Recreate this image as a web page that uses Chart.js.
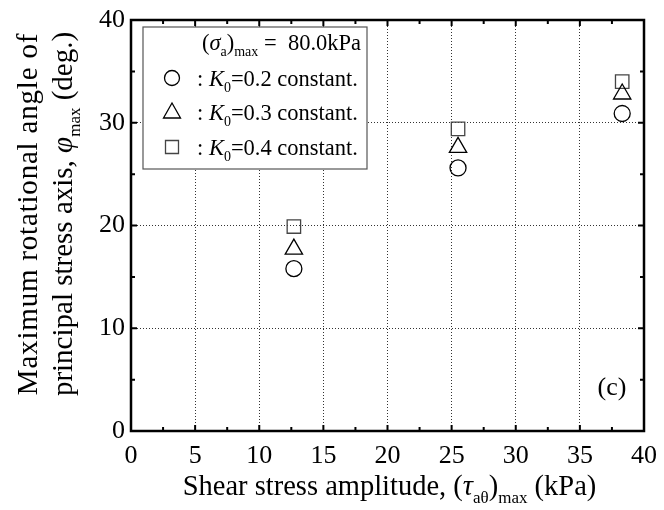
<!DOCTYPE html>
<html>
<head>
<meta charset="utf-8">
<script src="https://cdn.jsdelivr.net/npm/chart.js@4/dist/chart.umd.min.js"></script>
<style>
  html, body { margin: 0; padding: 0; background: #fff; }
  #wrap { width: 664px; height: 510px; position: relative; }
</style>
</head>
<body>
<div id="wrap"><canvas id="chart"></canvas></div>
<script>
// shear stress amplitude (kPa) and max rotational angle (deg.) for each K0
const shearAmp = [12.7, 25.5, 38.3];
const phiK02 = [15.8, 25.6, 30.9];
const phiK03 = [17.7, 27.6, 32.8];
const phiK04 = [19.9, 29.4, 34.0];
const xTicks = [0, 5, 10, 15, 20, 25, 30, 35, 40];
const yTicks = [0, 10, 20, 30, 40];
const xMinor = [2.5, 7.5, 12.5, 17.5, 22.5, 27.5, 32.5, 37.5];
const yMinor = [5, 15, 25, 35];

const SERIF = '"Liberation Serif", "Times New Roman", serif';

function pts(ys) {
    return shearAmp.map((x, i) => ({ x: x, y: ys[i] }));
}

// draws a row of text pieces (subscripts, italics) starting at x
function drawRich(ctx, x, y, parts, align) {
    let total = 0;
    for (const p of parts) {
        ctx.font = p.f;
        total += ctx.measureText(p.t).width;
    }
    let cx = align === 'right' ? x - total : align === 'center' ? x - total / 2 : x;
    ctx.textAlign = 'left';
    ctx.textBaseline = 'alphabetic';
    for (const p of parts) {
        ctx.font = p.f;
        ctx.fillText(p.t, cx, y + (p.dy || 0));
        cx += ctx.measureText(p.t).width;
    }
}

function marker(ctx, style, x, y) {
    ctx.save();
    ctx.lineWidth = 1.3;
    ctx.strokeStyle = style === 'rect' ? '#444' : '#000';
    ctx.beginPath();
    if (style === 'circle') {
        ctx.arc(x, y, 7.5, 0, Math.PI * 2);
    } else if (style === 'triangle') {
        ctx.moveTo(x, y - 9);
        ctx.lineTo(x + 8.5, y + 6);
        ctx.lineTo(x - 8.5, y + 6);
        ctx.closePath();
    } else {
        ctx.rect(x - 6.5, y - 6.5, 13, 13);
    }
    ctx.stroke();
    ctx.restore();
}

const framePlugin = {
    id: 'frame',
    afterDraw(chart) {
        const ctx = chart.ctx;
        const a = chart.chartArea;
        const xs = chart.scales.x, ys = chart.scales.y;
        ctx.save();
        ctx.fillStyle = '#000';
        ctx.strokeStyle = '#000';

        // inward ticks on all four sides
        ctx.lineWidth = 2;
        ctx.beginPath();
        for (const v of xTicks.concat(xMinor)) {
            const px = xs.getPixelForValue(v);
            const len = xMinor.includes(v) ? 4 : 6;
            ctx.moveTo(px, a.bottom); ctx.lineTo(px, a.bottom - len);
            ctx.moveTo(px, a.top); ctx.lineTo(px, a.top + len);
        }
        for (const v of yTicks.concat(yMinor)) {
            const py = ys.getPixelForValue(v);
            const len = yMinor.includes(v) ? 4 : 6;
            ctx.moveTo(a.left, py); ctx.lineTo(a.left + len, py);
            ctx.moveTo(a.right, py); ctx.lineTo(a.right - len, py);
        }
        ctx.stroke();

        // frame
        ctx.lineWidth = 2.5;
        ctx.strokeRect(a.left, a.top, a.right - a.left, a.bottom - a.top);

        // legend box
        const bx = 143, by = 27, bw = 224, bh = 142;
        ctx.fillStyle = '#fff';
        ctx.fillRect(bx, by, bw, bh);
        ctx.lineWidth = 1.2;
        ctx.strokeStyle = '#555';
        ctx.strokeRect(bx, by, bw, bh);

        ctx.fillStyle = '#000';
        const big = '22.5px ' + SERIF, it = 'italic 22.5px ' + SERIF, sm = '14px ' + SERIF;
        drawRich(ctx, 361, 50, [
            { t: '(', f: big }, { t: 'σ', f: it }, { t: 'a', f: sm, dy: 6 },
            { t: ')', f: big }, { t: 'max', f: sm, dy: 6 }, { t: ' =  80.0kPa', f: big }
        ], 'right');
        const rows = [['circle', '=0.2 constant.', 86], ['triangle', '=0.3 constant.', 120], ['rect', '=0.4 constant.', 155]];
        for (const r of rows) {
            marker(ctx, r[0], 172, r[2] - 8);
            drawRich(ctx, 197, r[2], [
                { t: ': ', f: big }, { t: 'K', f: it }, { t: '0', f: sm, dy: 6 }, { t: r[1], f: big }
            ], 'left');
        }

        // panel label
        ctx.font = '26px ' + SERIF;
        ctx.textAlign = 'center';
        ctx.textBaseline = 'middle';
        ctx.fillText('(c)', 612, 388);

        // x axis title
        const tf = '28.5px ' + SERIF, ti = 'italic 28.5px ' + SERIF, ts = '17px ' + SERIF;
        drawRich(ctx, (a.left + a.right) / 2 + 2, 495, [
            { t: 'Shear stress amplitude, (', f: tf }, { t: 'τ', f: ti },
            { t: 'aθ', f: ts, dy: 8 }, { t: ')', f: tf }, { t: 'max', f: ts, dy: 8 },
            { t: ' (kPa)', f: tf }
        ], 'center');

        // y axis title, two lines
        const yf = '29px ' + SERIF, yi = 'italic 29px ' + SERIF;
        ctx.translate(0, 214);
        ctx.rotate(-Math.PI / 2);
        ctx.letterSpacing = '0.8px';
        drawRich(ctx, 0, 37, [{ t: 'Maximum rotational angle of', f: yf }], 'center');
        ctx.letterSpacing = '0px';
        drawRich(ctx, 0, 72, [
            { t: 'principal stress axis, ', f: yf }, { t: 'φ', f: yi },
            { t: 'max', f: ts, dy: 8 }, { t: ' (deg.)', f: yf }
        ], 'center');
        ctx.restore();
    }
};

const baseSet = {
    showLine: false,
    backgroundColor: 'rgba(255,255,255,0)',
    borderWidth: 1.3
};

new Chart(document.getElementById('chart'), {
    type: 'scatter',
    data: {
        datasets: [
            Object.assign({}, baseSet, { label: 'K0=0.2 constant.', data: pts(phiK02), pointStyle: 'circle', pointRadius: 8, borderColor: '#000' }),
            Object.assign({}, baseSet, { label: 'K0=0.3 constant.', data: pts(phiK03), pointStyle: 'triangle', pointRadius: 10, borderColor: '#000' }),
            Object.assign({}, baseSet, { label: 'K0=0.4 constant.', data: pts(phiK04), pointStyle: 'rect', pointRadius: 9.5, borderColor: '#444' })
        ]
    },
    options: {
        responsive: true,
        maintainAspectRatio: false,
        animation: false,
        layout: { padding: { top: 20, right: 20, left: 0, bottom: 0 } },
        plugins: {
            legend: { display: false },
            tooltip: { enabled: false }
        },
        scales: {
            x: {
                type: 'linear',
                min: 0,
                max: 40,
                afterBuildTicks: s => { s.ticks = xTicks.map(v => ({ value: v })); },
                afterFit: s => { s.height = 79; s.paddingLeft = 0; s.paddingRight = 0; },
                grid: { color: '#333', lineWidth: 1, drawTicks: false },
                border: { display: false, dash: [1, 2] },
                ticks: { color: '#000', font: { family: SERIF, size: 26 }, padding: 10, maxRotation: 0 }
            },
            y: {
                type: 'linear',
                min: 0,
                max: 40,
                afterBuildTicks: s => { s.ticks = yTicks.map(v => ({ value: v })); },
                afterFit: s => { s.width = 131; s.paddingTop = 0; s.paddingBottom = 0; },
                grid: { color: '#333', lineWidth: 1, drawTicks: false },
                border: { display: false, dash: [1, 2] },
                ticks: { color: '#000', font: { family: SERIF, size: 26 }, padding: 6 }
            }
        }
    },
    plugins: [framePlugin]
});
</script>
</body>
</html>
